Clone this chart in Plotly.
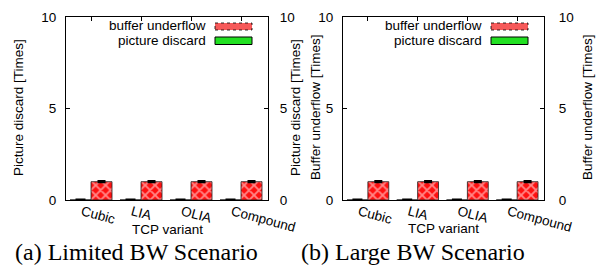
import plotly.graph_objects as go

W, H = 596, 268

categories = ["Cubic", "LIA", "OLIA", "Compound"]

# Limited BW scenario
limited_discard = [0.0, 0.0, 0.0, 0.0]
limited_discard_err = [0.02, 0.02, 0.02, 0.02]
limited_underflow = [1.0, 1.0, 1.0, 1.0]
limited_underflow_err = [0.03, 0.03, 0.03, 0.03]

# Large BW scenario
large_discard = [0.0, 0.0, 0.0, 0.0]
large_discard_err = [0.02, 0.02, 0.02, 0.02]
large_underflow = [1.0, 1.0, 1.0, 1.0]
large_underflow_err = [0.03, 0.03, 0.03, 0.03]

y_ticks = [0, 5, 10]

FONT = "Liberation Sans"
FS = 13.5
RED = "#ff1010"
GREEN = "#00e000"


def px(x):
    return x / W


def py(y):
    return 1 - y / H


fig = go.Figure()

panels = [
    dict(xa="x", ya="y", disc=limited_discard, disc_err=limited_discard_err,
         under=limited_underflow, under_err=limited_underflow_err),
    dict(xa="x3", ya="y3", disc=large_discard, disc_err=large_discard_err,
         under=large_underflow, under_err=large_underflow_err),
]

for p in panels:
    fig.add_trace(go.Bar(
        x=categories, y=p["disc"], xaxis=p["xa"], yaxis=p["ya"],
        name="picture discard", showlegend=False,
        marker=dict(color=GREEN, line=dict(color="black", width=0.8)),
        error_y=dict(type="data", array=p["disc_err"], color="black",
                     thickness=2.2, width=5),
    ))
    fig.add_trace(go.Bar(
        x=categories, y=p["under"], xaxis=p["xa"], yaxis=p["ya"],
        name="buffer underflow", showlegend=False,
        marker=dict(color=RED, line=dict(color="#222", width=0.8),
                    pattern=dict(shape="x", fgcolor="white", bgcolor=RED,
                                 size=7, solidity=0.45, fillmode="overlay")),
        error_y=dict(type="data", array=p["under_err"], color="black",
                     thickness=2.2, width=4),
    ))

ydom = [py(200), py(17)]
dom_left = [px(66), px(268)]
dom_right = [px(343), px(544)]
xrange = [-0.5, 3.54]

axis_font = dict(family=FONT, size=FS, color="black")

common_x = dict(showline=True, linecolor="black", linewidth=1, ticks="",
                tickfont=axis_font, tickangle=15, showgrid=False,
                zeroline=False, range=xrange, fixedrange=True,
                automargin=False, ticklabelshift=-9, ticklabelstandoff=-2)
top_x = dict(showline=True, linecolor="black", linewidth=1, ticks="inside",
             ticklen=4, tickcolor="black", showticklabels=False,
             showgrid=False, zeroline=False, range=xrange, automargin=False,
             tickvals=[0, 1, 2, 3], side="top")
common_y = dict(range=[0, 10], tickvals=y_ticks, showline=True,
                linecolor="black", linewidth=1, ticks="inside", ticklen=4,
                tickcolor="black", tickfont=axis_font, showgrid=False,
                zeroline=False, automargin=False, fixedrange=True)

fig.update_layout(
    template="none",
    width=W, height=H, autosize=False,
    margin=dict(l=0, r=0, t=0, b=0, pad=0),
    paper_bgcolor="white", plot_bgcolor="white",
    barmode="group", bargap=0.16, bargroupgap=0.0,
    font=dict(family=FONT, size=FS, color="black"),
    xaxis=dict(domain=dom_left, anchor="y", **common_x),
    xaxis2=dict(domain=dom_left, anchor="y", overlaying="x", **top_x),
    yaxis=dict(domain=ydom, anchor="x", side="left", ticklabelstandoff=6, **common_y),
    yaxis2=dict(domain=ydom, anchor="x", side="right", overlaying="y",
                ticklabelstandoff=8, **common_y),
    xaxis3=dict(domain=dom_right, anchor="y3", **common_x),
    xaxis4=dict(domain=dom_right, anchor="y3", overlaying="x3", **top_x),
    yaxis3=dict(domain=ydom, anchor="x3", side="left", ticklabelstandoff=6, **common_y),
    yaxis4=dict(domain=ydom, anchor="x3", side="right", overlaying="y3",
                ticklabelstandoff=11, **common_y),
)

# empty traces so the overlay axes are drawn
for xa, ya in [("x2", "y"), ("x", "y2"), ("x4", "y3"), ("x3", "y4")]:
    fig.add_trace(go.Scatter(x=[None], y=[None], xaxis=xa, yaxis=ya,
                             showlegend=False, hoverinfo="skip"))

ann = []


def text(x, y, s, size=FS, angle=0, xanchor="center", family=FONT):
    ann.append(dict(x=px(x), y=py(y), xref="paper", yref="paper", text=s,
                    showarrow=False, textangle=angle, xanchor=xanchor,
                    yanchor="middle", font=dict(family=family, size=size,
                                                color="black")))


# axis titles
text(18, 108, "Picture discard [Times]", angle=-90)
text(295, 108, "Picture discard [Times]", angle=-90)
text(315, 107, "Buffer underflow [Times]", angle=-90)
text(587, 107, "Buffer underflow [Times]", angle=-90)
text(167, 229, "TCP variant")
text(443.5, 228, "TCP variant")

# captions
text(136, 252, "(a) Limited BW Scenario", size=24, family="Liberation Serif")
text(413, 252, "(b) Large BW Scenario", size=24, family="Liberation Serif")

# gnuplot-style legends (text left, key right)
shapes = []
for text_right, key_l, key_r in [(208, 215, 252), (484, 491, 528)]:
    text(text_right, 26, "buffer underflow", xanchor="right")
    text(text_right, 40.5, "picture discard", xanchor="right")
    shapes.append(dict(type="rect", xref="paper", yref="paper",
                       x0=px(key_l), x1=px(key_r), y0=py(30), y1=py(23),
                       fillcolor="#f65a5a", line=dict(color="black", width=0.8, dash="dot")))
    shapes.append(dict(type="rect", xref="paper", yref="paper",
                       x0=px(key_l), x1=px(key_r), y0=py(44.5), y1=py(37),
                       fillcolor="#22e022", line=dict(color="black", width=1)))

fig.update_layout(annotations=ann, shapes=shapes)

fig.write_html(
    "out.html",
    config={"displayModeBar": False, "staticPlot": True},
    post_script="document.body.style.margin='0';document.body.style.overflow='hidden';",
)
